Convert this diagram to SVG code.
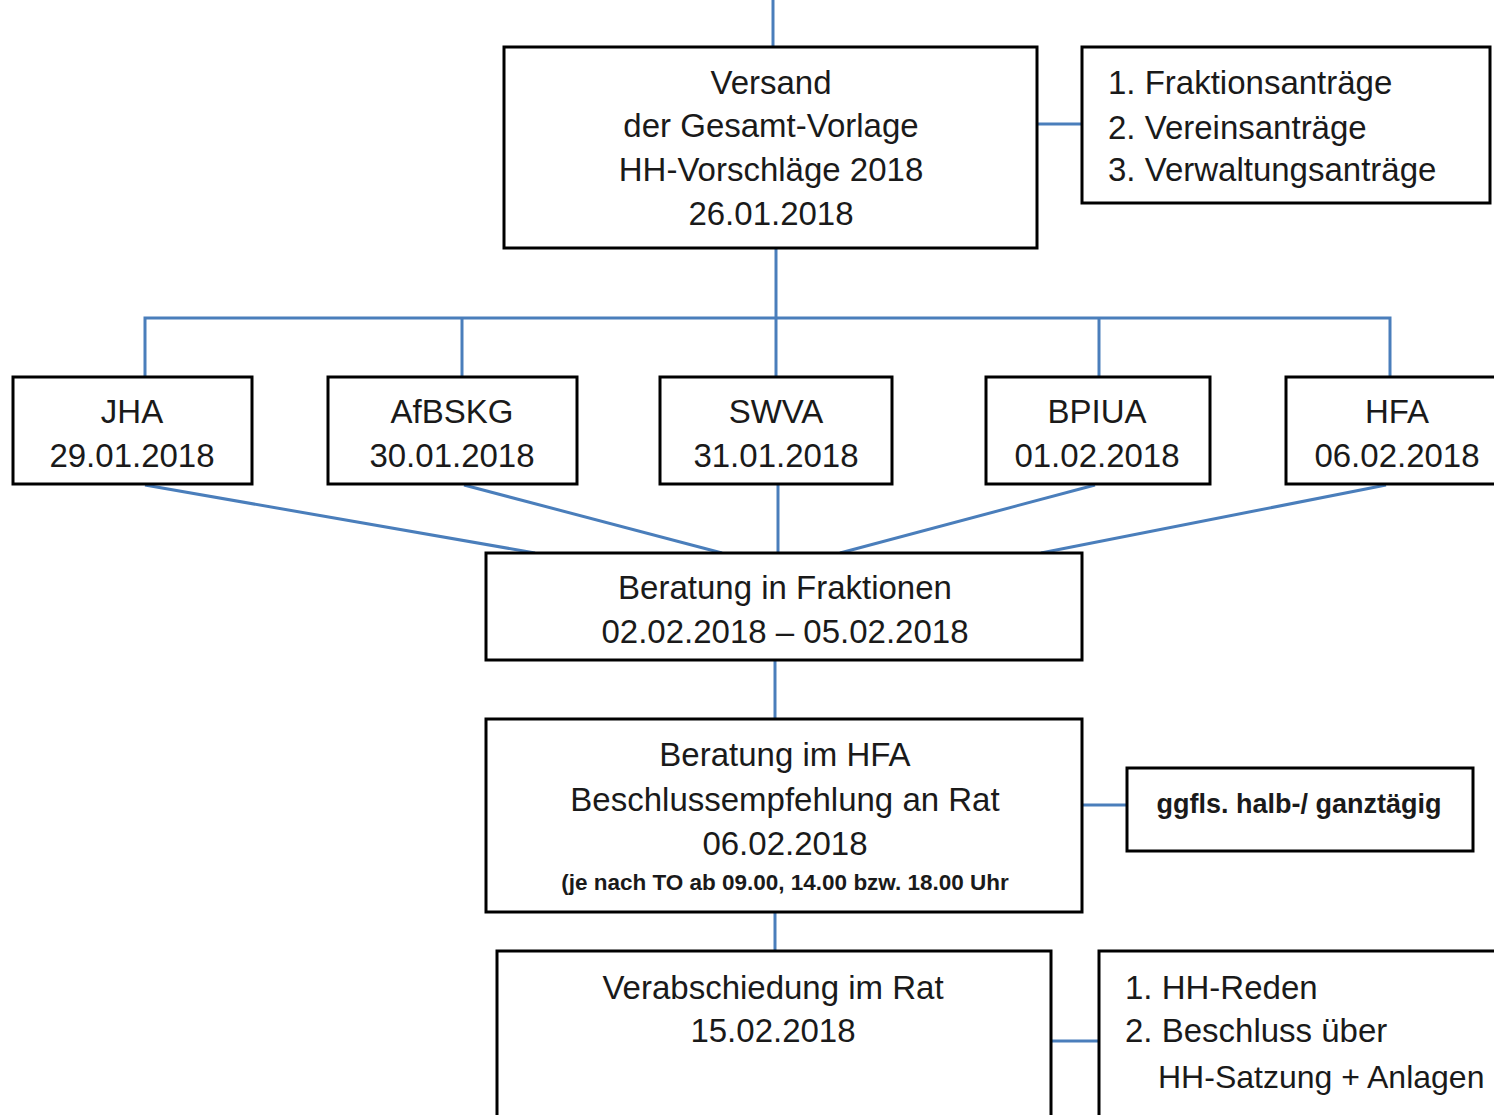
<svg xmlns="http://www.w3.org/2000/svg" width="1494" height="1115" viewBox="0 0 1494 1115">
<style>
.box{fill:#fff;stroke:#000;stroke-width:3}
.c{fill:none;stroke:#4a7ebb;stroke-width:3}
text{font-family:"Liberation Sans",Arial,sans-serif;font-size:33px;fill:#1a1a1a}
.m{text-anchor:middle}
</style>
<rect width="1494" height="1115" fill="#fff"/>
<g id="connectors">
<line class="c" x1="773" y1="0" x2="773" y2="47"/>
<line class="c" x1="1037" y1="124" x2="1082" y2="124"/>
<line class="c" x1="776" y1="248" x2="776" y2="377"/>
<polyline class="c" points="145,377 145,318 1390,318 1390,377"/>
<line class="c" x1="462" y1="318" x2="462" y2="377"/>
<line class="c" x1="1099" y1="318" x2="1099" y2="377"/>
<line class="c" x1="145" y1="485" x2="535" y2="553"/>
<line class="c" x1="464" y1="485" x2="722" y2="553"/>
<line class="c" x1="778" y1="485" x2="778" y2="558"/>
<line class="c" x1="1095" y1="485" x2="840" y2="553"/>
<line class="c" x1="1386" y1="485" x2="1041" y2="553"/>
<line class="c" x1="775" y1="660" x2="775" y2="719"/>
<line class="c" x1="1082" y1="805" x2="1127" y2="805"/>
<line class="c" x1="775" y1="912" x2="775" y2="951"/>
<line class="c" x1="1051" y1="1041" x2="1099" y2="1041"/>
</g>
<g id="versand">
<rect class="box" x="504" y="47" width="533" height="201"/>
<text class="m" x="771" y="94">Versand</text>
<text class="m" x="771" y="137">der Gesamt-Vorlage</text>
<text class="m" x="771" y="181">HH-Vorschläge 2018</text>
<text class="m" x="771" y="225">26.01.2018</text>
</g>
<g id="antraege">
<rect class="box" x="1082" y="47" width="408" height="156"/>
<text x="1108" y="94">1. Fraktionsanträge</text>
<text x="1108" y="139">2. Vereinsanträge</text>
<text x="1108" y="181">3. Verwaltungsanträge</text>
</g>
<g id="jha">
<rect class="box" x="13" y="377" width="239" height="107"/>
<text class="m" x="132" y="423">JHA</text>
<text class="m" x="132" y="467">29.01.2018</text>
</g>
<g id="afbskg">
<rect class="box" x="328" y="377" width="249" height="107"/>
<text class="m" x="452" y="423">AfBSKG</text>
<text class="m" x="452" y="467">30.01.2018</text>
</g>
<g id="swva">
<rect class="box" x="660" y="377" width="232" height="107"/>
<text class="m" x="776" y="423">SWVA</text>
<text class="m" x="776" y="467">31.01.2018</text>
</g>
<g id="bpiua">
<rect class="box" x="986" y="377" width="224" height="107"/>
<text class="m" x="1097" y="423">BPIUA</text>
<text class="m" x="1097" y="467">01.02.2018</text>
</g>
<g id="hfa">
<rect class="box" x="1286" y="377" width="230" height="107"/>
<text class="m" x="1397" y="423">HFA</text>
<text class="m" x="1397" y="467">06.02.2018</text>
</g>
<g id="fraktionen">
<rect class="box" x="486" y="553" width="596" height="107"/>
<text class="m" x="785" y="599">Beratung in Fraktionen</text>
<text class="m" x="785" y="643">02.02.2018 – 05.02.2018</text>
</g>
<g id="beratung-hfa">
<rect class="box" x="486" y="719" width="596" height="193"/>
<text class="m" x="785" y="766">Beratung im HFA</text>
<text class="m" x="785" y="811">Beschlussempfehlung an Rat</text>
<text class="m" x="785" y="855">06.02.2018</text>
<text class="m" x="785" y="890" style="font-size:22.5px;font-weight:bold">(je nach TO ab 09.00, 14.00 bzw. 18.00 Uhr</text>
</g>
<g id="ganztaegig">
<rect class="box" x="1127" y="768" width="346" height="83"/>
<text class="m" x="1299" y="813" style="font-size:27px;font-weight:bold">ggfls. halb-/ ganztägig</text>
</g>
<g id="rat">
<rect class="box" x="497" y="951" width="554" height="180"/>
<text class="m" x="773" y="999">Verabschiedung im Rat</text>
<text class="m" x="773" y="1042">15.02.2018</text>
</g>
<g id="reden">
<rect class="box" x="1099" y="951" width="420" height="180"/>
<text x="1125" y="999">1. HH-Reden</text>
<text x="1125" y="1042">2. Beschluss über</text>
<text x="1158" y="1088" style="font-size:32px">HH-Satzung + Anlagen</text>
</g>
</svg>
